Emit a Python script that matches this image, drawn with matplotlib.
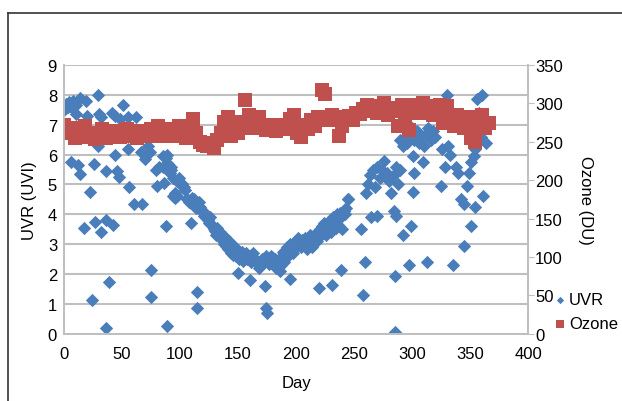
import numpy as np
import matplotlib
matplotlib.use("Agg")
import matplotlib.pyplot as plt

plt.rcParams['font.family'] = ['Liberation Sans Narrow', 'Liberation Sans', 'DejaVu Sans']

# UVR (UVI) - day of year, value
uvr_day = [0, 2, 4, 6, 8, 10, 14, 19, 29, 10, 20, 30, 32, 41, 44, 51, 48, 55, 62,
           6, 12, 14, 26, 29, 44, 36, 46, 47, 55, 56, 60, 67, 22, 17, 27, 32, 36, 42,
           24, 39, 36, 75, 75, 89, 88, 70, 74, 72, 79, 80, 82, 85, 85, 89, 86, 91, 92,
           94, 96, 97, 101, 103, 106, 109, 109, 112, 114, 115, 115, 115, 150, 160, 173,
           174, 175, 195, 220, 231, 239, 245, 256, 259, 258,
           260, 262, 264, 266, 268, 270, 272, 274, 276, 278, 280, 282, 284, 286, 288, 290,
           265, 270, 285, 284, 286, 285, 292, 299, 297,
           290, 292, 294, 296, 298, 300, 302, 304, 306, 308, 310, 312, 314, 316, 318,
           301, 302, 301, 309, 313, 320, 325, 326, 328, 331, 330, 333, 335,
           338, 340, 342, 345, 347, 349, 351, 345, 351, 354, 361,
           356, 360, 358, 359, 364, 354, 353, 0, 3, 66]
uvr_val = [7.6, 7.7, 7.75, 7.6, 7.8, 7.65, 7.9, 7.8, 8.0, 7.35, 7.3, 7.35, 7.25, 7.4, 7.3, 7.65, 7.2, 7.25, 7.25,
           5.75, 5.65, 5.35, 5.7, 6.3, 6.0, 5.45, 5.45, 5.25, 6.2, 4.9, 4.35, 4.35, 4.75, 3.55, 3.75, 3.4, 3.8, 3.65,
           1.15, 1.75, 0.2, 2.15, 1.25, 0.25, 3.6, 5.85, 6.1, 6.3, 5.5, 4.95, 5.6, 5.6, 5.95, 6.0, 5.05, 5.4, 5.6,
           4.6, 4.55, 5.1, 5.05, 4.9, 4.5, 3.7, 4.4, 4.45, 4.3, 4.35, 1.4, 0.85, 2.05, 1.8, 1.6,
           0.85, 0.7, 1.85, 1.55, 1.65, 2.15, 4.5, 3.5, 2.4, 1.3,
           4.7, 5.0, 5.3, 5.5, 4.9, 5.6, 5.2, 5.5, 5.8, 5.4, 5.1, 4.7, 5.3, 5.6, 5.0, 5.5,
           3.9, 3.95, 1.95, 4.1, 3.95, 0.05, 3.3, 3.6, 2.3,
           6.5, 6.3, 6.6, 6.4, 6.7, 6.9, 6.5, 6.8, 6.4, 6.6, 6.3, 6.7, 6.9, 6.5, 6.8,
           5.95, 5.4, 4.75, 5.75, 2.4, 6.6, 4.95, 6.2, 5.6, 6.3, 8.0, 6.0, 2.3,
           5.6, 5.4, 4.5, 4.35, 4.95, 5.4, 5.75, 2.95, 3.6, 4.25, 4.6,
           7.85, 8.0, 7.4, 6.6, 6.4, 6.2, 5.95, 7.5, 7.6, 6.1]

# dense seasonal core
core_day = [88, 90, 92, 94, 96, 97, 99, 100, 102, 104, 106, 108, 110, 111, 112, 113, 114, 116, 117, 118,
            120, 121, 122, 124, 125, 126, 128, 129, 130, 131, 132, 134, 135, 136, 137, 138, 139, 140, 141, 142,
            143, 144, 145, 146, 147, 148, 150, 151, 152, 153, 154, 156, 157, 158, 160, 161, 162, 163, 164, 166,
            167, 168, 170, 171, 172, 174, 176, 177, 178, 180, 181, 182, 183, 184, 186, 187, 188, 189, 190, 191,
            192, 193, 194, 195, 196, 197, 198, 199, 200, 201, 202, 204, 205, 206, 208, 209, 210, 212, 213, 214,
            215, 216, 218, 219, 220, 221, 222, 224, 225, 226, 227, 228, 229, 230, 231, 232, 233, 234, 235, 236,
            237, 238, 239, 240, 241, 242, 243, 245]
core_val = [5.9, 5.7, 5.5, 5.2, 4.7, 4.6, 5.2, 5.0, 5.0, 4.8, 4.5, 4.4, 4.55, 4.3, 4.5, 4.35, 4.2, 4.4, 4.25, 4.1,
            4.1, 3.95, 3.9, 3.8, 3.7, 3.9, 3.6, 3.5, 3.45, 3.3, 3.55, 3.4, 3.2, 3.3, 3.1, 3.0, 3.25, 2.95, 2.85, 3.1,
            2.9, 2.7, 2.8, 2.65, 2.9, 2.6, 2.7, 2.5, 2.55, 2.75, 2.45, 2.6, 2.7, 2.5, 2.6, 2.4, 2.5, 2.7, 2.55, 2.45,
            2.35, 2.2, 2.3, 2.5, 2.4, 2.6, 2.5, 2.35, 2.6, 2.55, 2.3, 2.5, 2.2, 2.4, 2.1, 2.3, 2.6, 2.75, 2.4, 2.7,
            2.9, 2.6, 2.8, 3.0, 2.85, 2.7, 3.05, 2.9, 3.1, 2.95, 3.2, 2.9, 3.15, 3.0, 3.2, 2.85, 3.1, 3.3, 3.0, 2.9,
            3.2, 3.35, 3.1, 3.4, 3.25, 3.5, 3.6, 3.7, 3.45, 3.3, 3.55, 3.65, 3.8, 3.4, 3.6, 3.9, 3.75, 3.55, 4.0, 3.85,
            3.6, 4.05, 3.9, 3.5, 4.1, 4.0, 4.2, 4.5]

# Ozone (DU), every third day
ozone_day = np.arange(0, 367, 3)
ozone = [272, 262, 268, 255, 265, 258, 270, 256, 262, 254,
         260, 266, 255, 262, 258, 264, 256, 261, 266, 257,
         262, 255, 264, 258, 260, 266, 257, 270, 262, 258,
         266, 258, 263, 270, 260, 255, 268, 280, 262, 250,
         246, 244, 248, 242, 252, 262, 276, 282, 258, 268,
         262, 276, 305, 285, 268, 274, 282, 270, 265, 272,
         268, 264, 272, 266, 270, 280, 285, 262, 256, 272,
         266, 278, 270, 282, 318, 312, 278, 285, 280, 258,
         270, 282, 284, 278, 288, 286, 292, 298, 290, 296,
         288, 296, 300, 285, 294, 290, 270, 298, 282, 265,
         294, 298, 288, 300, 290, 296, 285, 292, 298, 275,
         296, 280, 270, 285, 275, 268, 282, 255, 250, 272,
         285, 268, 275]

blue = '#4a7ebb'
red = '#c0504d'
grey = '#bfbfbf'

fig = plt.figure(figsize=(6.22, 4.02), dpi=100)
ax = fig.add_axes([0.103, 0.167, 0.746, 0.669])
ax2 = ax.twinx()

ax.scatter(uvr_day + core_day, uvr_val + core_val, marker='D', s=46, color=blue, lw=0, label='UVR')
ax2.scatter(ozone_day, ozone, marker='s', s=90, color=red, lw=0, label='Ozone')

ax.set_xlim(0, 400)
ax.set_ylim(0, 9)
ax2.set_ylim(0, 350)
ax.set_xticks(range(0, 401, 50))
ax.set_yticks(range(0, 10))
ax2.set_yticks(range(0, 351, 50))
ax.grid(axis='y', color=grey, lw=1.5)
ax.set_axisbelow(True)

for a in (ax, ax2):
    for s in a.spines.values():
        s.set_color(grey)
        s.set_linewidth(1.2)
    a.spines['top'].set_visible(False)
ax.tick_params(axis='y', labelsize=12, length=0, pad=5)
ax.tick_params(axis='x', labelsize=12, length=0, pad=9)
ax2.tick_params(axis='y', labelsize=12, length=4, color=grey, pad=1)

ax.set_xlabel('Day', fontsize=12, labelpad=10)
ax.set_ylabel('UVR (UVI)', fontsize=12, labelpad=8)
ax2.set_ylabel('Ozone (DU)', fontsize=12, rotation=-90, labelpad=22)

h1, l1 = ax.get_legend_handles_labels()
h2, l2 = ax2.get_legend_handles_labels()
fig.legend(h1 + h2, l1 + l2, loc='center left', bbox_to_anchor=(0.893, 0.222),
           frameon=False, fontsize=12, handlelength=0.5, handletextpad=0.3,
           labelspacing=0.55, markerscale=0.55, borderaxespad=0, borderpad=0)

# outer frame of the figure box
fig.add_artist(plt.Line2D([8 / 622, 1], [1 - 14 / 402, 1 - 14 / 402], color='#333333', lw=1.2))
fig.add_artist(plt.Line2D([8 / 622, 8 / 622], [0, 1 - 14 / 402], color='#333333', lw=1.2))

fig.savefig('out.png', dpi=100)
